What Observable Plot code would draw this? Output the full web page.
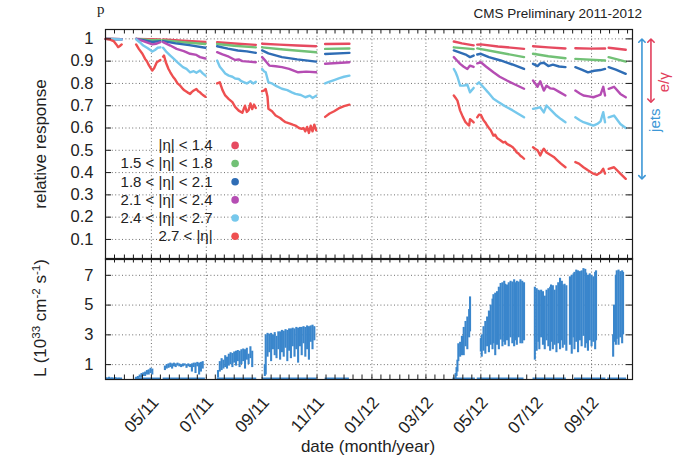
<!DOCTYPE html>
<html><head><meta charset="utf-8">
<script src="https://cdn.jsdelivr.net/npm/d3@7"></script>
<script src="https://cdn.jsdelivr.net/npm/@observablehq/plot@0.6"></script>
<style>
body{margin:0;background:#fff;}
#wrap{position:relative;width:682px;height:460px;overflow:hidden;font-family:"Liberation Sans",Arial,sans-serif;color:#222;}
#top,#bot{position:absolute;left:0;}
#top{top:0;}
#bot{top:258px;}
.lab{position:absolute;white-space:nowrap;}
.ylab{position:absolute;white-space:nowrap;transform:translate(-50%,-50%) rotate(-90deg);font-size:17px;}
.ylab sup{font-size:0.68em;vertical-align:0.55em;line-height:0;}
</style></head>
<body>
<div id="wrap">
  <div class="lab" style="left:97px;top:0px;font-family:'Liberation Serif',serif;font-size:15px;line-height:1.2;">p</div>
  <div class="lab" style="right:40px;top:6px;font-size:13.5px;">CMS Preliminary 2011-2012</div>
  <div id="top"></div>
  <div id="bot"></div>
  <div class="ylab" style="left:41px;top:144px;">relative response</div>
  <div class="ylab" style="left:41px;top:318px;">L (10<sup>33</sup> cm<sup>-2</sup> s<sup>-1</sup>)</div>
  <div class="lab" style="left:368px;top:437px;transform:translateX(-50%);font-size:17px;">date (month/year)</div>
</div>
<script>
// ---------- data ----------
const seriesNames = ["|η| < 1.4", "1.5 < |η| < 1.8", "1.8 < |η| < 2.1", "2.1 < |η| < 2.4", "2.4 < |η| < 2.7", "2.7 < |η|"];
const seriesColors = ["#e64a60", "#72c176", "#2f6db5", "#b54db3", "#76c8ec", "#ee4f50"];

const eta14 = [
 ["2011-03-11",1.0],["2011-03-29",0.999], null,
 ["2011-04-14",1.0],["2011-04-28",0.998],["2011-05-11",0.997], null,
 ["2011-05-14",0.997],["2011-06-05",0.992],["2011-06-30",0.986], null,
 ["2011-07-13",0.985],["2011-08-01",0.979],["2011-08-25",0.973], null,
 ["2011-09-01",0.978],["2011-09-20",0.974],["2011-10-10",0.97],["2011-10-31",0.967], null,
 ["2011-11-10",0.977],["2011-12-07",0.978], null,
 ["2012-04-01",0.988],["2012-04-10",0.98],["2012-04-23",0.971], null,
 ["2012-04-27",0.974],["2012-05-01",0.975],["2012-05-20",0.966],["2012-06-18",0.955], null,
 ["2012-06-28",0.967],["2012-07-15",0.962],["2012-08-03",0.957], null,
 ["2012-08-14",0.958],["2012-09-01",0.956],["2012-09-16",0.957], null,
 ["2012-09-20",0.96],["2012-10-09",0.951]
];
const eta15 = [
 ["2011-03-11",1.0],["2011-03-29",0.999], null,
 ["2011-04-14",1.0],["2011-05-02",0.994],["2011-05-11",0.995], null,
 ["2011-05-14",0.994],["2011-06-05",0.985],["2011-06-30",0.977], null,
 ["2011-07-13",0.977],["2011-08-01",0.969],["2011-08-25",0.962], null,
 ["2011-09-01",0.962],["2011-09-25",0.952],["2011-10-31",0.94], null,
 ["2011-11-10",0.955],["2011-12-07",0.957], null,
 ["2012-04-01",0.962],["2012-04-23",0.954], null,
 ["2012-04-27",0.957],["2012-05-20",0.94],["2012-06-18",0.918], null,
 ["2012-06-28",0.933],["2012-07-15",0.922],["2012-08-03",0.913], null,
 ["2012-08-14",0.91],["2012-09-16",0.903], null,
 ["2012-09-20",0.918],["2012-10-09",0.898]
];
const eta18 = [
 ["2011-03-11",1.0],["2011-03-29",0.998], null,
 ["2011-04-14",1.0],["2011-04-25",0.992],["2011-05-02",0.986],["2011-05-11",0.99], null,
 ["2011-05-14",0.99],["2011-05-28",0.98],["2011-06-12",0.972],["2011-06-30",0.96], null,
 ["2011-07-13",0.967],["2011-07-25",0.956],["2011-08-05",0.948],["2011-08-15",0.944],["2011-08-25",0.937], null,
 ["2011-09-01",0.948],["2011-09-08",0.935],["2011-09-23",0.918],["2011-10-10",0.908],["2011-10-31",0.898], null,
 ["2011-11-10",0.932],["2011-12-07",0.937], null,
 ["2012-04-01",0.948],["2012-04-08",0.938],["2012-04-15",0.928],["2012-04-19",0.918],["2012-04-23",0.925], null,
 ["2012-04-27",0.93],["2012-05-01",0.933],["2012-05-10",0.918],["2012-05-23",0.903],["2012-06-05",0.885],["2012-06-18",0.865], null,
 ["2012-06-28",0.888],["2012-07-03",0.878],["2012-07-06",0.89],["2012-07-10",0.893],["2012-07-15",0.878],["2012-07-20",0.884],["2012-07-27",0.876],["2012-08-03",0.873], null,
 ["2012-08-14",0.873],["2012-08-21",0.862],["2012-08-28",0.85],["2012-09-04",0.857],["2012-09-11",0.86],["2012-09-16",0.865], null,
 ["2012-09-20",0.873],["2012-09-28",0.862],["2012-10-09",0.843]
];
const eta21 = [
 ["2011-03-11",1.0],["2011-03-29",0.998], null,
 ["2011-04-14",1.0],["2011-04-22",0.99],["2011-05-02",0.975],["2011-05-06",0.978],["2011-05-11",0.985], null,
 ["2011-05-14",0.985],["2011-05-22",0.97],["2011-05-29",0.955],["2011-06-06",0.945],["2011-06-13",0.933],["2011-06-20",0.928],["2011-06-24",0.918],["2011-06-30",0.912], null,
 ["2011-07-13",0.94],["2011-07-19",0.93],["2011-07-26",0.92],["2011-08-02",0.905],["2011-08-06",0.908],["2011-08-10",0.9],["2011-08-17",0.898],["2011-08-25",0.895], null,
 ["2011-09-01",0.918],["2011-09-05",0.9],["2011-09-09",0.88],["2011-09-16",0.877],["2011-09-23",0.873],["2011-10-01",0.865],["2011-10-11",0.85],["2011-10-20",0.853],["2011-10-31",0.85], null,
 ["2011-11-10",0.888],["2011-12-07",0.895], null,
 ["2012-04-01",0.918],["2012-04-04",0.905],["2012-04-08",0.888],["2012-04-12",0.875],["2012-04-16",0.865],["2012-04-19",0.88],["2012-04-23",0.874], null,
 ["2012-04-27",0.89],["2012-05-01",0.895],["2012-05-07",0.875],["2012-05-15",0.85],["2012-05-22",0.83],["2012-05-30",0.813],["2012-06-08",0.795],["2012-06-18",0.776], null,
 ["2012-06-28",0.813],["2012-07-03",0.785],["2012-07-06",0.81],["2012-07-10",0.768],["2012-07-13",0.79],["2012-07-17",0.778],["2012-07-21",0.776],["2012-07-27",0.762],["2012-08-03",0.746], null,
 ["2012-08-14",0.768],["2012-08-19",0.755],["2012-08-23",0.746],["2012-08-29",0.742],["2012-09-03",0.738],["2012-09-08",0.745],["2012-09-11",0.75],["2012-09-14",0.785],["2012-09-16",0.746], null,
 ["2012-09-20",0.776],["2012-09-26",0.785],["2012-10-03",0.753],["2012-10-09",0.738]
];
const eta24 = [
 ["2011-03-11",1.0],["2011-03-29",0.997], null,
 ["2011-04-14",0.998],["2011-04-18",0.985],["2011-04-22",0.97],["2011-04-27",0.958],["2011-05-02",0.943],["2011-05-05",0.95],["2011-05-08",0.96],["2011-05-11",0.962], null,
 ["2011-05-14",0.96],["2011-05-18",0.94],["2011-05-22",0.925],["2011-05-26",0.91],["2011-05-30",0.895],["2011-06-05",0.873],["2011-06-09",0.865],["2011-06-13",0.85],["2011-06-17",0.855],["2011-06-20",0.848],["2011-06-24",0.858],["2011-06-27",0.845],["2011-06-30",0.835], null,
 ["2011-07-13",0.903],["2011-07-16",0.875],["2011-07-19",0.86],["2011-07-22",0.845],["2011-07-26",0.835],["2011-07-30",0.83],["2011-08-02",0.822],["2011-08-06",0.82],["2011-08-09",0.81],["2011-08-12",0.805],["2011-08-15",0.8],["2011-08-19",0.81],["2011-08-22",0.8],["2011-08-25",0.807], null,
 ["2011-09-01",0.865],["2011-09-03",0.855],["2011-09-05",0.85],["2011-09-08",0.805],["2011-09-12",0.8],["2011-09-17",0.788],["2011-09-23",0.776],["2011-09-29",0.77],["2011-10-04",0.76],["2011-10-08",0.753],["2011-10-14",0.748],["2011-10-19",0.738],["2011-10-24",0.745],["2011-10-27",0.735],["2011-10-31",0.745], null,
 ["2011-11-10",0.8],["2011-11-15",0.808],["2011-11-20",0.815],["2011-11-26",0.824],["2011-12-01",0.83],["2011-12-07",0.835], null,
 ["2012-04-01",0.865],["2012-04-03",0.85],["2012-04-05",0.83],["2012-04-08",0.79],["2012-04-12",0.79],["2012-04-16",0.795],["2012-04-19",0.76],["2012-04-23",0.78], null,
 ["2012-04-27",0.798],["2012-04-29",0.805],["2012-05-04",0.783],["2012-05-09",0.76],["2012-05-15",0.731],["2012-05-20",0.718],["2012-05-25",0.705],["2012-05-30",0.693],["2012-06-05",0.68],["2012-06-11",0.665],["2012-06-18",0.648], null,
 ["2012-06-28",0.686],["2012-07-03",0.69],["2012-07-06",0.693],["2012-07-10",0.67],["2012-07-13",0.701],["2012-07-18",0.68],["2012-07-24",0.656],["2012-07-29",0.64],["2012-08-03",0.626], null,
 ["2012-08-14",0.648],["2012-08-19",0.635],["2012-08-23",0.626],["2012-08-29",0.618],["2012-09-03",0.611],["2012-09-08",0.62],["2012-09-11",0.63],["2012-09-14",0.671],["2012-09-16",0.626], null,
 ["2012-09-20",0.648],["2012-09-26",0.656],["2012-10-03",0.618],["2012-10-09",0.6]
];
const eta27 = [
 ["2011-03-11",1.0],["2011-03-16",0.997],["2011-03-20",0.99],["2011-03-23",0.975],["2011-03-25",0.963],["2011-03-27",0.968],["2011-03-29",0.975], null,
 ["2011-04-14",0.975],["2011-04-17",0.955],["2011-04-21",0.933],["2011-04-24",0.91],["2011-04-26",0.9],["2011-04-28",0.883],["2011-04-30",0.87],["2011-05-02",0.858],["2011-05-04",0.868],["2011-05-07",0.895],["2011-05-11",0.905], null,
 ["2011-05-14",0.92],["2011-05-15",0.925],["2011-05-17",0.895],["2011-05-20",0.865],["2011-05-22",0.85],["2011-05-25",0.83],["2011-05-27",0.82],["2011-05-30",0.8],["2011-06-02",0.79],["2011-06-05",0.775],["2011-06-07",0.768],["2011-06-10",0.76],["2011-06-13",0.753],["2011-06-15",0.762],["2011-06-17",0.768],["2011-06-20",0.775],["2011-06-22",0.765],["2011-06-24",0.76],["2011-06-26",0.752],["2011-06-28",0.746],["2011-06-30",0.74], null,
 ["2011-07-13",0.8],["2011-07-16",0.805],["2011-07-19",0.77],["2011-07-22",0.746],["2011-07-26",0.73],["2011-07-30",0.716],["2011-08-02",0.695],["2011-08-06",0.678],["2011-08-10",0.668],["2011-08-12",0.69],["2011-08-13",0.7],["2011-08-15",0.672],["2011-08-17",0.68],["2011-08-19",0.71],["2011-08-21",0.685],["2011-08-23",0.705],["2011-08-25",0.69], null,
 ["2011-09-01",0.765],["2011-09-03",0.768],["2011-09-05",0.775],["2011-09-07",0.74],["2011-09-08",0.686],["2011-09-12",0.675],["2011-09-16",0.656],["2011-09-21",0.645],["2011-09-24",0.635],["2011-09-27",0.626],["2011-10-02",0.62],["2011-10-05",0.615],["2011-10-08",0.611],["2011-10-12",0.6],["2011-10-15",0.596],["2011-10-17",0.6],["2011-10-19",0.585],["2011-10-21",0.605],["2011-10-23",0.578],["2011-10-25",0.61],["2011-10-27",0.585],["2011-10-29",0.615],["2011-10-31",0.59], null,
 ["2011-11-10",0.65],["2011-11-15",0.665],["2011-11-20",0.675],["2011-11-25",0.688],["2011-12-01",0.698],["2011-12-07",0.705], null,
 ["2012-04-01",0.746],["2012-04-03",0.735],["2012-04-05",0.723],["2012-04-08",0.678],["2012-04-11",0.65],["2012-04-14",0.626],["2012-04-16",0.618],["2012-04-18",0.611],["2012-04-19",0.64],["2012-04-21",0.633],["2012-04-23",0.625], null,
 ["2012-04-27",0.648],["2012-04-29",0.66],["2012-05-01",0.659],["2012-05-04",0.635],["2012-05-06",0.625],["2012-05-08",0.611],["2012-05-10",0.6],["2012-05-12",0.59],["2012-05-15",0.566],["2012-05-17",0.57],["2012-05-19",0.555],["2012-05-21",0.55],["2012-05-23",0.544],["2012-05-26",0.535],["2012-05-28",0.538],["2012-05-30",0.529],["2012-06-03",0.52],["2012-06-05",0.515],["2012-06-07",0.507],["2012-06-10",0.49],["2012-06-12",0.485],["2012-06-14",0.475],["2012-06-16",0.47],["2012-06-18",0.462], null,
 ["2012-06-28",0.514],["2012-07-01",0.505],["2012-07-03",0.5],["2012-07-06",0.477],["2012-07-08",0.495],["2012-07-10",0.507],["2012-07-13",0.49],["2012-07-17",0.48],["2012-07-21",0.47],["2012-07-25",0.455],["2012-07-29",0.44],["2012-08-03",0.424], null,
 ["2012-08-14",0.447],["2012-08-18",0.44],["2012-08-23",0.424],["2012-08-28",0.41],["2012-09-03",0.395],["2012-09-07",0.39],["2012-09-11",0.4],["2012-09-14",0.417],["2012-09-16",0.395], null,
 ["2012-09-20",0.417],["2012-09-26",0.424],["2012-10-03",0.395],["2012-10-09",0.372]
];

// luminosity: [date, low, high] in 10^33 cm^-2 s^-1
const lumi = [
 ["2011-03-12",0,0.1],["2011-03-15",0,0.15],["2011-03-18",0,0.1],["2011-03-22",0,0.12],["2011-03-26",0,0.08],
 ["2011-04-14",0,0.15],["2011-04-16",0.05,0.2],["2011-04-18",0.1,0.3],["2011-04-20",0.1,0.4],["2011-04-22",0.2,0.45],["2011-04-24",0.2,0.5],["2011-04-26",0.3,0.6],["2011-04-28",0.3,0.65],["2011-04-30",0.4,0.75],["2011-05-02",0.3,0.7],
 ["2011-05-16",0.6,0.9],["2011-05-18",0.7,1.0],["2011-05-20",0.75,1.05],["2011-05-22",0.8,1.1],["2011-05-24",0.7,1.05],["2011-05-26",0.85,1.1],["2011-05-28",0.8,1.05],["2011-05-30",0.9,1.1],["2011-06-01",0.85,1.05],["2011-06-03",0.8,1.0],["2011-06-05",0.85,1.05],["2011-06-07",0.9,1.05],["2011-06-09",0.75,1.0],["2011-06-11",0.85,1.05],["2011-06-13",0.8,1.0],["2011-06-15",0.5,1.05],["2011-06-17",0.8,1.1],["2011-06-19",0.4,1.1],["2011-06-21",0.85,1.15],["2011-06-23",0.3,1.1],["2011-06-25",0.5,1.15],["2011-06-27",0.7,1.2],
 ["2011-07-14",0.1,0.6],["2011-07-16",0.5,1.2],["2011-07-18",0.6,1.4],["2011-07-20",0.7,1.3],["2011-07-22",0.8,1.6],["2011-07-24",0.7,1.5],["2011-07-26",0.9,1.7],["2011-07-28",1.0,1.8],["2011-07-30",0.8,1.75],["2011-08-01",1.1,1.85],["2011-08-03",0.9,1.9],["2011-08-05",1.2,1.95],["2011-08-07",0.8,1.9],["2011-08-09",1.0,2.0],["2011-08-11",1.2,2.05],["2011-08-13",0.7,2.0],["2011-08-15",1.3,2.1],["2011-08-17",1.0,1.7],["2011-08-19",1.4,2.2],["2011-08-21",0.8,1.9],
 ["2011-09-04",0.2,1.0],["2011-09-05",0.3,3.0],["2011-09-07",1.5,3.1],["2011-09-09",1.8,3.05],["2011-09-11",1.2,3.1],["2011-09-13",2.0,3.0],["2011-09-15",1.6,3.15],["2011-09-17",1.4,2.9],["2011-09-19",2.0,3.2],["2011-09-21",1.3,3.2],["2011-09-23",1.8,3.3],["2011-09-25",1.5,3.25],["2011-09-27",2.1,3.35],["2011-09-29",1.2,3.3],["2011-10-01",1.9,3.4],["2011-10-03",1.4,3.4],["2011-10-05",2.2,3.45],["2011-10-07",1.5,3.4],["2011-10-09",2.0,3.5],["2011-10-11",1.1,3.45],["2011-10-13",2.2,3.5],["2011-10-15",1.6,3.5],["2011-10-17",2.4,3.55],["2011-10-19",1.5,3.5],["2011-10-21",2.0,3.6],["2011-10-23",1.3,3.55],["2011-10-25",2.5,3.6],["2011-10-27",2.0,3.65],["2011-10-29",2.6,3.55],
 // 2012
 ["2012-04-03",0,0.4],["2012-04-04",0.2,0.8],["2012-04-05",0.5,1.3],["2012-04-06",1.2,2.4],["2012-04-08",1.5,2.5],["2012-04-10",1.6,2.9],["2012-04-12",1.6,3.5],["2012-04-14",2.2,3.9],["2012-04-16",2.0,4.2],["2012-04-18",2.8,4.7],["2012-04-19",3.2,5.55],
 ["2012-05-01",1.85,2.75],["2012-05-02",1.5,3.0],["2012-05-04",1.9,3.55],["2012-05-06",1.7,3.9],["2012-05-08",2.2,4.2],["2012-05-10",1.8,4.6],["2012-05-12",2.3,5.0],["2012-05-14",2.0,5.4],["2012-05-15",2.4,5.7],["2012-05-17",1.6,5.8],["2012-05-19",2.3,5.9],["2012-05-21",2.0,6.2],["2012-05-23",2.65,6.45],["2012-05-25",2.2,6.5],["2012-05-27",2.5,6.6],["2012-05-28",2.3,6.4],["2012-05-30",2.6,6.35],["2012-06-01",2.2,6.5],["2012-06-03",2.8,6.6],["2012-06-05",2.4,6.55],["2012-06-07",2.2,6.7],["2012-06-08",2.6,6.5],["2012-06-10",2.3,6.6],["2012-06-12",2.8,6.55],["2012-06-14",2.4,6.7],["2012-06-16",2.4,6.6],["2012-06-18",2.6,6.5],
 ["2012-06-30",1.3,6.2],["2012-07-02",1.9,6.1],["2012-07-04",2.5,6.0],["2012-07-05",2.0,5.95],["2012-07-07",2.8,6.0],["2012-07-09",2.3,5.9],["2012-07-11",2.0,5.6],["2012-07-13",2.6,6.0],["2012-07-15",2.2,6.1],["2012-07-17",1.9,6.2],["2012-07-18",2.5,6.35],["2012-07-20",2.0,6.3],["2012-07-22",2.3,6.0],["2012-07-24",1.8,6.3],["2012-07-26",2.4,6.5],["2012-07-28",2.0,6.8],["2012-07-30",2.6,6.6],["2012-07-31",2.1,6.35],["2012-08-02",2.3,6.4],["2012-08-04",1.9,6.3],
 ["2012-08-08",2.3,6.9],["2012-08-10",1.7,7.0],["2012-08-12",2.8,7.1],["2012-08-13",2.0,7.2],["2012-08-15",2.5,7.35],["2012-08-17",1.8,7.3],["2012-08-19",2.6,7.25],["2012-08-21",2.2,7.3],["2012-08-23",2.9,7.45],["2012-08-25",2.1,7.4],["2012-08-26",2.4,7.15],["2012-08-28",1.9,7.0],["2012-08-30",2.6,7.1],["2012-09-01",2.2,7.0],["2012-09-03",2.5,6.9],["2012-09-05",2.0,7.2],["2012-09-06",2.6,7.3],
 ["2012-09-25",1.5,3.0],["2012-09-26",2.5,5.0],["2012-09-28",2.3,7.0],["2012-09-29",2.7,7.3],["2012-10-01",2.3,7.35],["2012-10-03",2.8,7.25],["2012-10-05",2.4,7.3],["2012-10-06",3.0,7.2]
];
// periods with beam but ~zero luminosity recorded
const lumiZero = [
 ["2011-03-11","2011-03-30"],["2011-04-13","2011-05-12"],["2011-05-14","2011-06-30"],["2011-07-13","2011-08-26"],
 ["2011-09-01","2011-11-01"],["2011-11-10","2011-12-07"],["2012-03-31","2012-04-25"],["2012-04-27","2012-06-18"],
 ["2012-06-28","2012-08-04"],["2012-08-13","2012-09-17"],["2012-09-19","2012-10-10"]
];

const monthTicks = ["2011-05-01","2011-07-01","2011-09-01","2011-11-01","2012-01-01","2012-03-01","2012-05-01","2012-07-01","2012-09-01"];
const yTicksTop = [0.1,0.2,0.3,0.4,0.5,0.6,0.7,0.8,0.9,1];
const yTicksBot = [1,3,5,7];

// ---------- build ----------
const X0 = new Date("2011-03-11"), X1 = new Date("2012-10-16T12:00Z");
const Y_TOP = [0.01, 1.042], Y_BOT = [0, 8.13];
const mt = monthTicks.map(d => new Date(d));
const minor = d3.utcDays(X0, X1).filter(d => [1, 11, 21].includes(d.getUTCDate()));
const plotW = 682 - 105 - 50;
const pxDay = plotW / ((X1 - X0) / 864e5);
const dayShift = (d, px) => new Date(+d + px / pxDay * 864e5);
const pyTop = 230 / (Y_TOP[1] - Y_TOP[0]);
const pyBot = 121 / (Y_BOT[1] - Y_BOT[0]);

const allSeries = [eta14, eta15, eta18, eta21, eta24, eta27];
const lineData = allSeries.flatMap((arr, i) => arr.map(p => p
  ? {date: new Date(p[0]), v: p[1], s: seriesNames[i]}
  : {date: null, v: NaN, s: seriesNames[i]}));
const legend = seriesNames.map((name, i) => ({name, color: seriesColors[i], i}));
const legY = i => 0.522 - i * 0.0815;

const gridStyle = {stroke: "#222", strokeOpacity: 0.65, strokeDasharray: "1,2.4"};
const frameCol = "#1a1a1a";

const topPlot = Plot.plot({
  width: 682, height: 260,
  marginLeft: 105, marginRight: 50, marginTop: 29, marginBottom: 1,
  style: {fontFamily: "Liberation Sans, Arial, sans-serif", fontSize: "16.5px", background: "none", overflow: "visible", color: "#222"},
  x: {type: "utc", domain: [X0, X1], axis: null},
  y: {domain: Y_TOP, axis: null},
  color: {domain: seriesNames, range: seriesColors},
  marks: [
    Plot.gridX(mt, gridStyle),
    Plot.gridY(yTicksTop, gridStyle),
    Plot.axisY({ticks: yTicksTop, tickSize: 0, tickPadding: 12, label: null, tickFormat: d3.format("")}),
    Plot.line(lineData, {x: "date", y: "v", z: "s", stroke: "s", strokeWidth: 2.4, strokeLinejoin: "round"}),
    // legend
    Plot.text(legend, {x: new Date("2011-07-08"), y: d => legY(d.i), text: "name", textAnchor: "end", fontSize: 15, fill: "#222"}),
    Plot.dot(legend, {x: new Date("2011-08-02"), y: d => legY(d.i), r: 3.8, fill: "color", stroke: "none"}),
    // e/gamma and jets ranges
    Plot.line([[new Date("2012-10-27"), 0.992], [new Date("2012-10-27"), 0.379]], {stroke: "#3d97d6", strokeWidth: 1.6, markerStart: "arrow-reverse", markerEnd: "arrow"}),
    Plot.line([[new Date("2012-11-06"), 0.992], [new Date("2012-11-06"), 0.723]], {stroke: "#e23f5c", strokeWidth: 1.6, markerStart: "arrow-reverse", markerEnd: "arrow"}),
    Plot.text(["e/γ"], {x: new Date("2012-11-21"), y: 0.805, text: d => d, rotate: -90, fill: "#e23f5c", fontSize: 15}),
    Plot.text(["jets"], {x: new Date("2012-11-11"), y: 0.635, text: d => d, rotate: -90, fill: "#3d97d6", fontSize: 15}),
    // inward ticks
    Plot.ruleX(minor, {y1: Y_TOP[1], y2: Y_TOP[1] - 4.5 / pyTop, stroke: frameCol}),
    Plot.ruleX(minor, {y1: Y_TOP[0], y2: Y_TOP[0] + 4.5 / pyTop, stroke: frameCol}),
    Plot.ruleY(yTicksTop, {x1: X0, x2: dayShift(X0, 6), stroke: frameCol}),
    Plot.ruleY(yTicksTop, {x1: X1, x2: dayShift(X1, -6), stroke: frameCol}),
    Plot.frame({stroke: frameCol, strokeWidth: 1.2})
  ]
});
document.getElementById("top").appendChild(topPlot);

const lumiData = lumi.map(([d, lo, hi]) => ({date: new Date(d), lo, hi}));
const zeroData = lumiZero.map(([a, b]) => ({a: new Date(a), b: new Date(b)}));

const botPlot = Plot.plot({
  width: 682, height: 202,
  marginLeft: 105, marginRight: 50, marginTop: 0, marginBottom: 81,
  style: {fontFamily: "Liberation Sans, Arial, sans-serif", fontSize: "16.5px", background: "none", overflow: "visible", color: "#222"},
  x: {type: "utc", domain: [X0, X1], axis: null},
  y: {domain: Y_BOT, axis: null},
  marks: [
    Plot.gridX(mt, gridStyle),
    Plot.gridY(yTicksBot, gridStyle),
    Plot.axisY({ticks: yTicksBot, tickSize: 0, tickPadding: 12, label: null}),
    Plot.axisX({ticks: mt, tickSize: 0, tickPadding: 20, dx: 4, tickRotate: -48, fontSize: 17, tickFormat: d3.utcFormat("%m/%y"), label: null}),
    Plot.ruleY(zeroData, {x1: "a", x2: "b", y: 0.08, stroke: "#3a86cc", strokeWidth: 1.6}),
    Plot.ruleX(lumiData, {x: "date", y1: "lo", y2: "hi", stroke: "#3a86cc", strokeWidth: 2.1}),
    Plot.ruleX(minor, {y1: Y_BOT[1], y2: Y_BOT[1] - 4.5 / pyBot, stroke: frameCol}),
    Plot.ruleX(minor, {y1: Y_BOT[0], y2: Y_BOT[0] + 4.5 / pyBot, stroke: frameCol}),
    Plot.ruleY(yTicksBot, {x1: X0, x2: dayShift(X0, 6), stroke: frameCol}),
    Plot.ruleY(yTicksBot, {x1: X1, x2: dayShift(X1, -6), stroke: frameCol}),
    Plot.frame({stroke: frameCol, strokeWidth: 1.2})
  ]
});
document.getElementById("bot").appendChild(botPlot);
</script>
</body></html>
